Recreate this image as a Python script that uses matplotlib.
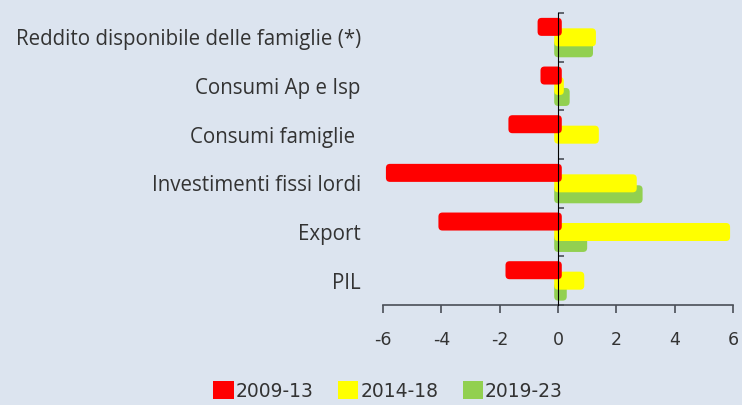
"""
Bar chart: contributi per periodo (2009-13, 2014-18, 2019-23).
Writes out.png (742x405).
"""
import numpy as np
import matplotlib
matplotlib.use("Agg")
import matplotlib.pyplot as plt
from matplotlib.patches import FancyBboxPatch, Patch

plt.rcParams["font.family"] = ["DejaVu Sans"]

categories = ["Reddito disponibile delle famiglie (*)", "Consumi Ap e Isp",
              "Consumi famiglie ", "Investimenti fissi lordi", "Export", "PIL"]
periods = ["2009-13", "2014-18", "2019-23"]
v_2009_13 = [-0.7, -0.6, -1.7, -5.9, -4.1, -1.8]
v_2014_18 = [1.3, 0.2, 1.4, 2.7, 5.9, 0.9]
v_2019_23 = [1.2, 0.4, 0.0, 2.9, 1.0, 0.3]
xticks = [-6, -4, -2, 0, 2, 4, 6]

BG = "#dce4ef"
TXT = "#333333"
AXC = "#4a4f57"
colors = ["#ff0000", "#ffff00", "#92d050"]

fig = plt.figure(figsize=(7.42, 4.05), dpi=100, facecolor=BG)
ax = fig.add_axes([383 / 742, 1 - 305 / 405, 350 / 742, 292 / 405])
ax.set_facecolor(BG)

n = len(categories)
centers = np.arange(n)[::-1]          # first category on top
offsets = [0.215, 0.0, -0.225]
height = 0.37
tail = 0.13                            # rounded bars poke a little past zero
series = [v_2009_13, v_2014_18, v_2019_23]

# green first, red on top
for k in [2, 1, 0]:
    bars = ax.barh(centers + offsets[k], series[k], height=height,
                   color=colors[k], zorder=2 + (2 - k))
    for b in bars:
        x, y = b.get_xy()
        w, h = b.get_width(), b.get_height()
        b.set_visible(False)
        if abs(w) < 1e-9:
            continue
        x0 = x - tail * np.sign(w)
        x1 = x + w
        ax.add_patch(FancyBboxPatch((min(x0, x1), y), abs(x1 - x0), h,
                                    boxstyle="round,pad=0,rounding_size=0.14",
                                    mutation_aspect=0.6, fc=colors[k], ec="none",
                                    zorder=b.get_zorder()))

ax.set_xlim(-6, 6)
ax.set_ylim(-0.5, n - 0.5)
ax.set_xticks(xticks)
ax.set_xticklabels([str(t) for t in xticks], fontsize=12.5, color=TXT)
ax.tick_params(axis="x", direction="out", length=6, width=1.2, color=AXC, pad=13)

ax.set_yticks(centers)
ax.set_yticklabels(categories, fontsize=14.8, color=TXT, family=["Open Sans", "DejaVu Sans"])
ax.tick_params(axis="y", length=0, pad=16)

for s in ["top", "right", "left"]:
    ax.spines[s].set_visible(False)
ax.spines["bottom"].set_color(AXC)
ax.spines["bottom"].set_linewidth(1.2)

# axis line at zero, ticks at group boundaries
sec = ax.secondary_yaxis(0.5)
sec.set_yticks(np.arange(n + 1) - 0.5)
sec.set_yticklabels([])
sec.tick_params(axis="y", direction="out", length=4, width=1.2, color=AXC)
sec.spines["left"].set_color(AXC)
sec.spines["left"].set_linewidth(1.3)
sec.set_zorder(6)

handles = [Patch(facecolor=c, edgecolor="none") for c in colors]
fig.legend(handles, periods, loc="center", bbox_to_anchor=(388 / 742, 1 - 391 / 405),
           ncol=3, frameon=False, fontsize=13.5, handlelength=1.1, handleheight=1.1,
           handletextpad=0.1, columnspacing=1.3, labelcolor=TXT)

fig.savefig("out.png", dpi=100, facecolor=BG)
